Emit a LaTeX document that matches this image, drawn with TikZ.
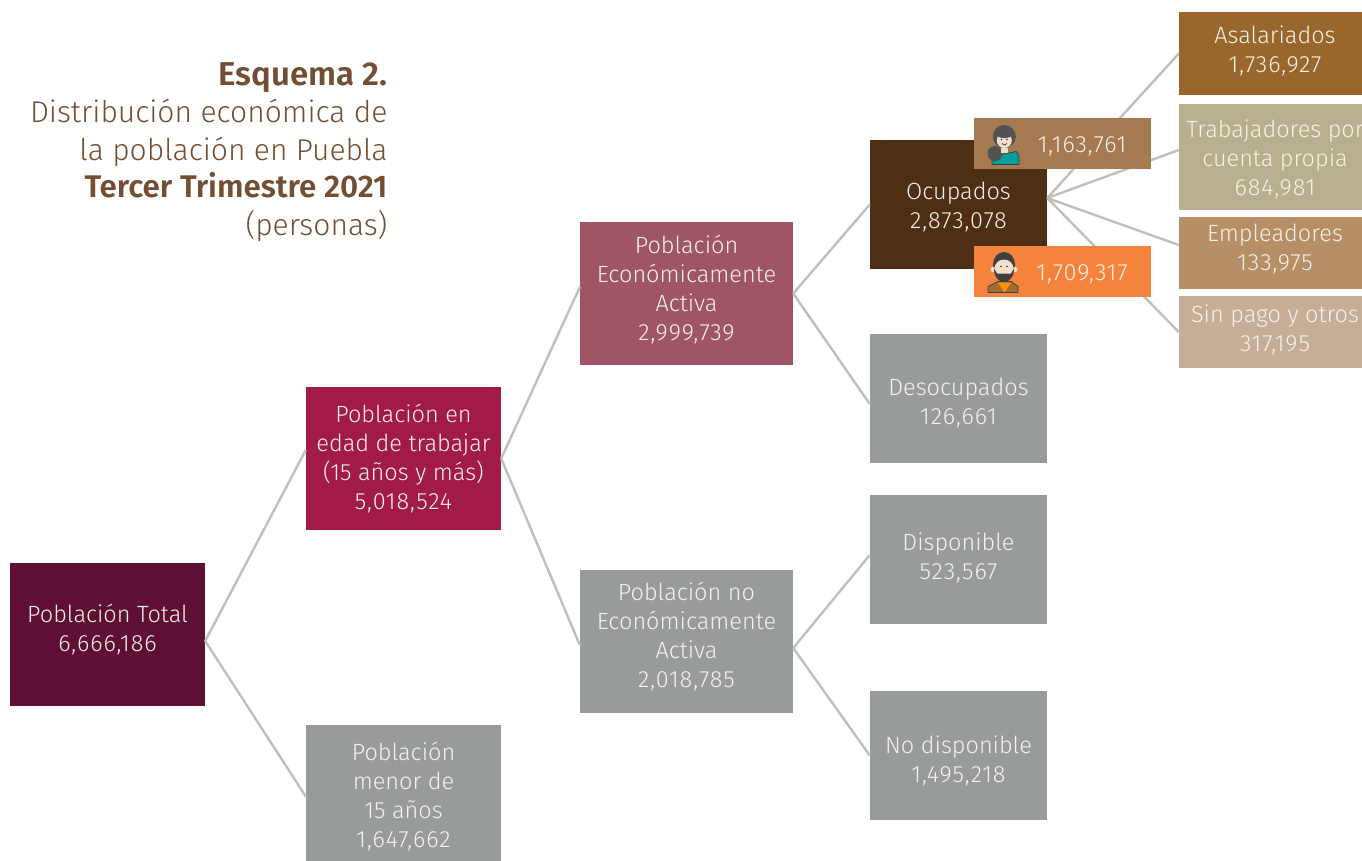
\documentclass[tikz,border=0pt]{standalone}
\usepackage{fontspec}
\setmainfont{Fira Sans Light}[BoldFont={Fira Sans SemiBold}]
\newfontface\numfont{Fira Sans Light}[LetterSpace=4]
\usepackage{xcolor}
\usetikzlibrary{positioning}
\definecolor{titlebrown}{HTML}{744E32}
\definecolor{boxtext}{HTML}{F6F0E8}
\definecolor{linegray}{HTML}{BFBFBF}
\definecolor{boxgray}{HTML}{989B9B}
\definecolor{iconline}{HTML}{3F3F3D}
\definecolor{skin}{HTML}{F2DFCB}
\newcommand{\nm}[1]{{\numfont #1}}
\newcommand{\txtdown}[1]{\rule{0pt}{\dimexpr 17.5pt+2\dimexpr #1pt\relax\relax}}
\newcommand{\txtup}[1]{\rule[-\dimexpr 4.5pt+2\dimexpr #1pt\relax\relax]{0pt}{0pt}}
\tikzset{
  womanicon/.pic={
    \fill[teal!75!cyan, draw=iconline, line width=.8pt] (-11,21) -- (-11,12) -- (4,10) -- (13,8) .. controls (16,10) and (16,14) .. (16,21) -- cycle;
    \fill[iconline!90!white] (1.3,-7) circle (11.5);
    \fill[iconline!90!white] (-8,10) circle (7.5);
    \fill[skin] (-2,4) rectangle (5,9);
    \fill[skin] (1.3,-3) circle (7.5);
    \fill[iconline!90!white] (1.3,-9) ellipse (8 and 3.5);
    \fill[iconline] (-1.5,-4) circle (.8) (4,-4) circle (.8);
    \draw[iconline,line width=.7pt] (-1,0) .. controls (0,2) and (3,2) .. (4,0);
  },
  manicon/.pic={
    \fill[brown!85!black, draw=iconline, line width=.8pt] (-15,21) -- (-15,15) -- (-5,10) -- (8,10) -- (15,15) -- (15,21) -- cycle;
    \fill[orange!85!yellow] (-5,11) -- (8,11) -- (1.5,21) -- cycle;
    \fill[iconline] (1,-7) ellipse (11 and 12.5);
    \fill[skin] (-10,-2) circle (2.5) (12,-2) circle (2.5);
    \fill[skin] (1,-3) ellipse (9.5 and 9);
    \fill[iconline] (-9,-3) .. controls (-9,15) and (11,15) .. (11,-3) -- (8,2) -- (-6,2) -- cycle;
    \fill[iconline] (-2,-5) circle (.8) (4,-5) circle (.8);
  }
}
\begin{document}
\begin{tikzpicture}[x=1pt,y=-1pt,on grid]
    \tikzstyle{txtbox}=[shape=rectangle,text=boxtext,inner sep=0pt,align=center,
        font=\fontsize{23.5}{29}\selectfont]
    \tikzstyle{wide}=[txtbox,minimum width=195pt,minimum height=143pt]
    \tikzstyle{wider}=[txtbox,minimum width=213pt,minimum height=143pt]
    \tikzstyle{mid}=[txtbox,minimum width=177pt,minimum height=129pt]
    \tikzstyle{tail}=[txtbox,minimum width=192pt]
    \tikzstyle{small}=[txtbox,minimum width=177pt,minimum height=51pt]
    \tikzstyle{link}=[draw=linegray,line width=2.4pt]

    \useasboundingbox (0,0) rectangle (1362,860);
    \clip (0,0) rectangle (1362,860);

    \node[text=titlebrown,anchor=east,align=right,font=\fontsize{30}{37.5}\selectfont] (TT) at (391,152)
        {{\fontsize{33}{37.5}\selectfont\textbf{Esquema 2.}}\\Distribución económica de\\la población en Puebla\\{\fontsize{31.3}{37.5}\selectfont\textbf{Tercer Trimestre 2021}}\\(personas)};

    \node[wide,fill={rgb,255:red,94;green,15;blue,51}] (A) at (107.5,634.5) {Población Total\\\nm{6,666,186}\txtup{4}};
    \node[wide,fill={rgb,255:red,162;green,26;blue,72},above right=176pt and 296pt of A] (B1) {Población en\\edad de trabajar\\(15 años y más)\\\nm{5,018,524}};
    \node[wide,fill=boxgray,below right=162pt and 296pt of A] (B2) {Población\\menor de\\15 años\\\nm{1,647,662}};
    \node[wider,fill={rgb,255:red,160;green,85;blue,101},above right=165pt and 283pt of B1] (C1) {Población\\Económicamente\\Activa\\\nm{2,999,739}\txtup{3}};
    \node[wider,fill=boxgray,below right=183pt and 283pt of B1] (C2) {Población no\\Económicamente\\Activa\\\nm{2,018,785}\txtup{4}};
    \node[mid,fill={rgb,255:red,79;green,47;blue,20},above right=89pt and 272pt of C1] (D1) {\txtdown{3}Ocupados\\\nm{2,873,078}};
    \node[mid,fill=boxgray,below right=105pt and 272pt of C1] (D2) {\txtdown{5}Desocupados\\\nm{126,661}};
    \node[mid,fill=boxgray,above right=82pt and 272pt of C2] (D3) {Disponible\\\nm{523,567}\txtup{1}};
    \node[mid,fill=boxgray,below right=114pt and 272pt of C2] (D4) {\txtdown{6}No disponible\\\nm{1,495,218}};
    \node[tail,minimum height=83pt,fill={rgb,255:red,153;green,103;blue,43},above right=151pt and 316.5pt of D1] (E1) {Asalariados\\\nm{1,736,927}\txtup{2}};
    \node[tail,minimum height=106pt,fill={rgb,255:red,183;green,176;blue,143},above right=47.5pt and 316.5pt of D1] (E2) {\txtdown{3}Trabajadores por\\cuenta propia\\\nm{684,981}};
    \node[tail,minimum height=72pt,fill={rgb,255:red,182;green,143;blue,102},below right=48.5pt and 316.5pt of D1] (E3) {Empleadores\\\nm{133,975}\txtup{3}};
    \node[tail,minimum height=72pt,fill={rgb,255:red,198;green,174;blue,150},below right=127.5pt and 316.5pt of D1] (E4) {Sin pago y otros\\\nm{317,195}\txtup{2}};

    \path[link]
    ([yshift=-6.5pt]A.east) edge node {} ([yshift=8.5pt]B1.west)
    ([yshift=-6.5pt]A.east) edge node {} (B2.west)
    (B1.east) edge node {} ([yshift=6.5pt]C1.west)
    (B1.east) edge node {} ([yshift=-3.5pt]C2.west)
    (C1.east) edge node {} (D1.west)
    (C1.east) edge node {} ([yshift=-5.5pt]D2.west)
    ([yshift=-6.5pt]C2.east) edge node {} ([yshift=4.5pt]D3.west)
    ([yshift=-6.5pt]C2.east) edge node {} (D4.west)
    ([yshift=6.5pt]D1.east) edge node {} (E1.west)
    ([yshift=6.5pt]D1.east) edge node {} ([yshift=7pt]E2.west)
    ([yshift=6.5pt]D1.east) edge node {} ([yshift=8pt]E3.west)
    ([yshift=6.5pt]D1.east) edge node {} (E4.west)
   ;

    \node[small,fill={rgb,255:red,166;green,122;blue,80},above right=61pt and 104pt of D1] (F1) {\hspace*{39pt}\txtdown{2}\nm{1,163,761}};
    \node[small,fill={rgb,255:red,245;green,131;blue,59},below right=67pt and 104pt of D1] (F2) {\hspace*{39pt}\txtdown{2}\nm{1,709,317}};
    \pic at ([xshift=-59.5pt]F1.center) {womanicon};
    \pic at ([xshift=-59.5pt]F2.center) {manicon};
\end{tikzpicture}
\end{document}
